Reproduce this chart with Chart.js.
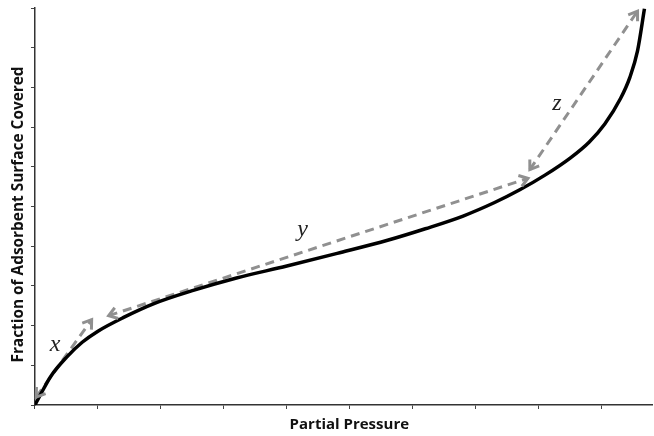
<!DOCTYPE html>
<html>
<head>
<meta charset="utf-8">
<script src="https://cdn.jsdelivr.net/npm/chart.js@4"></script>
<style>
  html, body { margin: 0; padding: 0; background: #fff; }
  #wrap { width: 654px; height: 436px; position: relative; }
</style>
</head>
<body>
<div id="wrap"><canvas id="isotherm"></canvas></div>
<script>
// isotherm curve (x = partial pressure, y = coverage)
const pressure = [0, 0.10, 0.25, 0.50, 0.75, 1.00, 1.40, 1.90, 2.50, 3.20, 4.00, 4.80, 5.60, 6.20, 6.80, 7.30, 7.70, 8.10, 8.50, 8.80, 9.05, 9.30, 9.45, 9.57, 9.68];
const coverage = [0, 0.30, 0.72, 1.20, 1.58, 1.86, 2.20, 2.56, 2.88, 3.20, 3.50, 3.82, 4.15, 4.44, 4.76, 5.10, 5.42, 5.79, 6.22, 6.62, 7.08, 7.72, 8.26, 8.92, 9.98];

// double-headed dashed arrows: [start, end] as [x, y]
const arrowX = [[0.02, 0.20], [0.90, 2.15]];
const arrowY = [[1.17, 2.25], [7.83, 5.71]];
const arrowZ = [[7.86, 5.93], [9.57, 9.92]];

const labelNames = ['x', 'y', 'z'];
const labelPos = [[0.32, 1.52], [4.25, 4.42], [8.29, 7.58]];

const xTicks = [0, 1, 2, 3, 4, 5, 6, 7, 8, 9];
const yTicks = [0, 1, 2, 3, 4, 5, 6, 7, 8, 9, 10];

const toPts = (xs, ys) => xs.map((x, i) => ({ x, y: ys[i] }));
const segPts = seg => seg.map(p => ({ x: p[0], y: p[1] }));

const dashGrey = '#909090';

const arrowDataset = seg => ({
  data: segPts(seg),
  borderColor: dashGrey,
  borderWidth: 3,
  borderDash: [9, 6],
  pointRadius: 0,
  tension: 0,
  isArrow: true,
});

// draws open chevrons at both ends of each arrow dataset, plus the x/y/z labels
const arrowPlugin = {
  id: 'arrowsAndLabels',
  afterDatasetsDraw(chart) {
    const ctx = chart.ctx;
    chart.data.datasets.forEach((ds, i) => {
      if (!ds.isArrow) return;
      const pts = chart.getDatasetMeta(i).data;
      const a = pts[0], b = pts[pts.length - 1];
      [[a, b], [b, a]].forEach(([tip, from]) => {
        const ang = Math.atan2(tip.y - from.y, tip.x - from.x);
        const len = 10, spread = 0.6;
        ctx.save();
        ctx.strokeStyle = dashGrey;
        ctx.lineWidth = 3;
        ctx.lineCap = 'butt';
        ctx.lineJoin = 'miter';
        ctx.beginPath();
        ctx.moveTo(tip.x - len * Math.cos(ang - spread), tip.y - len * Math.sin(ang - spread));
        ctx.lineTo(tip.x, tip.y);
        ctx.lineTo(tip.x - len * Math.cos(ang + spread), tip.y - len * Math.sin(ang + spread));
        ctx.stroke();
        ctx.restore();
      });
    });
    const xs = chart.scales.x, ys = chart.scales.y;
    ctx.save();
    ctx.fillStyle = '#222';
    ctx.font = 'italic 24px "Liberation Serif", serif';
    ctx.textAlign = 'center';
    ctx.textBaseline = 'middle';
    labelNames.forEach((t, i) => {
      ctx.fillText(t, xs.getPixelForValue(labelPos[i][0]), ys.getPixelForValue(labelPos[i][1]));
    });
    ctx.restore();
  }
};

new Chart(document.getElementById('isotherm'), {
  type: 'line',
  data: {
    datasets: [
      {
        data: toPts(pressure, coverage),
        borderColor: '#000',
        borderWidth: 3.5,
        pointRadius: 0,
        cubicInterpolationMode: 'monotone',
      },
      arrowDataset(arrowX),
      arrowDataset(arrowY),
      arrowDataset(arrowZ),
    ]
  },
  options: {
    responsive: true,
    maintainAspectRatio: false,
    animation: false,
    layout: { padding: { left: 7, right: 2, top: 8, bottom: 0 } },
    plugins: { legend: { display: false }, tooltip: { enabled: false } },
    scales: {
      x: {
        type: 'linear',
        min: 0,
        max: 9.8,
        afterBuildTicks: s => { s.ticks = xTicks.map(v => ({ value: v })); },
        ticks: { display: false },
        grid: { drawOnChartArea: false, drawTicks: true, tickLength: 4, color: '#444' },
        border: { display: true, color: '#333', width: 1.5 },
        title: {
          display: true,
          text: '   Partial Pressure',
          color: '#111',
          font: { family: 'Open Sans', size: 15, weight: 'bold' },
          padding: { top: 7, bottom: 2 },
        },
      },
      y: {
        type: 'linear',
        min: 0,
        max: 10,
        afterBuildTicks: s => { s.ticks = yTicks.map(v => ({ value: v })); },
        ticks: { display: false },
        grid: { drawOnChartArea: false, drawTicks: true, tickLength: 4, color: '#444' },
        border: { display: true, color: '#333', width: 1.5 },
        title: {
          display: true,
          text: 'Fraction of Adsorbent Surface Covered    ',
          color: '#111',
          font: { family: 'Open Sans', size: 15.4, weight: 'bold' },
          padding: { top: 2, bottom: 3.5 },
        },
      }
    }
  },
  plugins: [arrowPlugin]
});
</script>
</body>
</html>
